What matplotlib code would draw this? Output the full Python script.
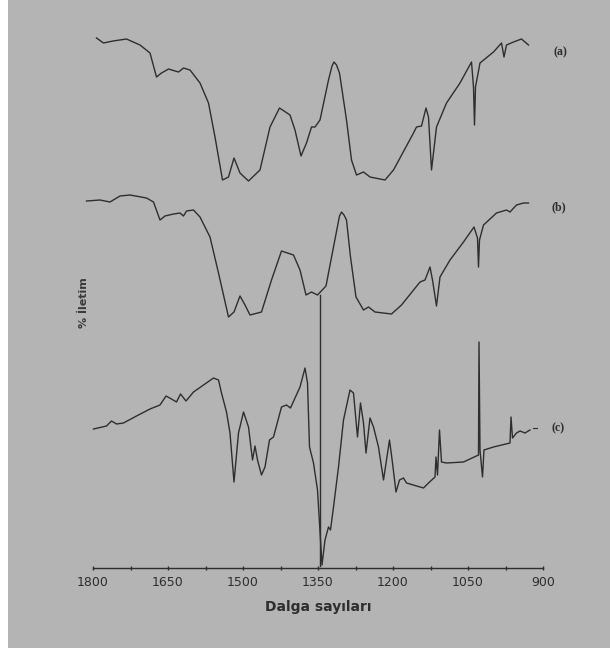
import matplotlib
matplotlib.use("Agg")
import matplotlib.pyplot as plt
from matplotlib.patches import Rectangle

# spectra: wavenumber (cm-1) and relative height above the axis
wn_a = [1793, 1779, 1760, 1733, 1706, 1686, 1673, 1663, 1649, 1629, 1619, 1606, 1586,
        1569, 1556, 1541, 1529, 1518, 1506, 1489, 1466, 1446, 1427, 1406, 1396, 1384,
        1373, 1363, 1356, 1346, 1329, 1322, 1318, 1313, 1307, 1293, 1283, 1273, 1259, 1246, 1216,
        1199, 1159, 1153, 1143, 1134, 1129, 1123, 1113, 1093, 1066, 1043, 1039, 1037,
        1035, 1026, 999, 983, 978, 973, 959, 943, 929]
t_a = [530, 525, 527, 529, 523, 515, 491, 495, 499, 496, 500, 498, 485,
       465, 431, 388, 391, 410, 395, 387, 398, 441, 460, 453, 438, 412,
       425, 441, 441, 448, 488, 502, 506, 503, 495, 448, 408, 393, 396, 391, 388,
       398, 435, 441, 442, 460, 451, 398, 441, 465, 485, 506, 481, 443,
       481, 505, 516, 525, 511, 523, 526, 529, 523]

wn_b = [1813, 1786, 1766, 1746, 1726, 1693, 1679, 1666, 1656, 1639, 1626, 1619, 1613,
        1599, 1586, 1566, 1549, 1529, 1518, 1506, 1496, 1486, 1463, 1443, 1423, 1399,
        1386, 1374, 1363, 1351, 1334, 1319, 1307, 1303, 1298, 1293, 1285, 1274, 1259, 1249, 1236,
        1203, 1183, 1146, 1136, 1126, 1121, 1113, 1106, 1086, 1059, 1038, 1031, 1029,
        1027, 1019, 993, 973, 966, 953, 939, 929]
t_b = [367, 368, 366, 372, 373, 370, 366, 348, 352, 354, 355, 352, 357,
       358, 351, 331, 295, 251, 256, 272, 263, 253, 256, 288, 317, 313,
       298, 273, 276, 273, 282, 321, 352, 356, 353, 348, 311, 271, 258, 261, 256,
       254, 263, 286, 288, 301, 288, 262, 291, 308, 326, 341, 330, 301,
       328, 343, 355, 358, 356, 363, 365, 365]

wn_c = [1799, 1773, 1763, 1753, 1739, 1713, 1686, 1666, 1654, 1643, 1633, 1625, 1614,
        1599, 1579, 1559, 1549, 1543, 1533, 1526, 1518, 1509, 1499, 1489, 1481, 1476,
        1471, 1463, 1456, 1447, 1439, 1423, 1413, 1405, 1386, 1376, 1371, 1367, 1359,
        1351, 1345, 1342, 1336, 1329, 1325, 1319, 1309, 1299, 1286, 1279, 1271, 1265,
        1259, 1254, 1246, 1239, 1229, 1219, 1207, 1201, 1194, 1187, 1179, 1173, 1139,
        1129, 1116, 1114, 1111, 1107, 1103, 1093, 1059, 1029, 1028, 1026, 1021, 1018,
        999, 966, 964, 961, 953, 946, 936, 926]
t_c = [139, 142, 147, 144, 145, 152, 159, 163, 172, 169, 166, 174, 167,
       176, 183, 190, 188, 175, 156, 135, 86, 135, 156, 141, 108, 122,
       108, 93, 101, 128, 131, 161, 163, 160, 181, 200, 185, 121, 105,
       78, 28, 3, 28, 41, 38, 61, 101, 148, 178, 175, 131, 165,
       145, 115, 150, 141, 121, 88, 128, 105, 76, 88, 90, 85, 80,
       85, 91, 111, 93, 138, 106, 105, 106, 113, 226, 118, 91, 118,
       121, 125, 151, 130, 135, 137, 135, 138]

# drop line from (b) down to the baseline
drop_wn = [1346, 1346]
drop_t = [273, 2]

labels = ["(a)", "(b)", "(c)"]
label_wn = [880, 883, 883]
label_t = [516, 361, 140]

xticks = [1800, 1650, 1500, 1350, 1200, 1050, 900]
xminor = [1725, 1575, 1425, 1275, 1125, 975]

bg = "#b4b4b4"
ink = "#2e2e2e"

fig = plt.figure(figsize=(6.1, 6.48), dpi=100, facecolor=bg)
fig.patches.append(Rectangle((0, 0), 8 / 610, 1, transform=fig.transFigure,
                             facecolor="white", edgecolor="none", zorder=0))

ax = fig.add_axes([93 / 610, 80 / 648, 450 / 610, 548 / 648])
ax.set_facecolor(bg)
ax.set_xlim(1800, 900)
ax.set_ylim(0, 548)

for w, t in [(wn_a, t_a), (wn_b, t_b), (wn_c, t_c)]:
    ax.plot(w, t, color=ink, lw=1.0, clip_on=False)
ax.plot(drop_wn, drop_t, color=ink, lw=1.0)

for lab, w, t in zip(labels, label_wn, label_t):
    ax.text(w, t, lab, fontsize=8.5, fontweight="bold", color=ink,
            family="Liberation Serif", ha="left", va="center", clip_on=False)
ax.plot([920, 912], [140, 140], color=ink, lw=0.8, clip_on=False)

for s in ["top", "left", "right"]:
    ax.spines[s].set_visible(False)
ax.spines["bottom"].set_color(ink)
ax.spines["bottom"].set_linewidth(1.0)
ax.set_yticks([])
ax.set_xticks(xticks)
ax.set_xticks(xminor, minor=True)
ax.tick_params(axis="x", which="both", direction="inout", length=3,
               width=1, colors=ink, labelsize=9, pad=4)
ax.set_xlabel("Dalga sayıları", fontsize=10, fontweight="bold", color=ink, labelpad=8)

fig.text(84 / 610, 1 - 303 / 648, "% İletim", rotation=90, fontsize=8,
         fontweight="bold", color="#3a3a3a", ha="center", va="center")

fig.savefig("out.png", dpi=100, facecolor=bg)
